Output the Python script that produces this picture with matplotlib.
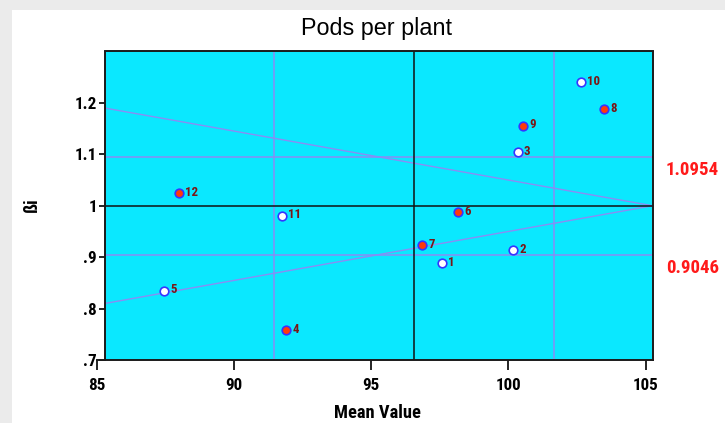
import matplotlib
matplotlib.use("Agg")
import matplotlib.pyplot as plt
from matplotlib import font_manager
from matplotlib.patches import Rectangle

# dados (média x coeficiente de regressão ßi)
genotypes = ["1", "2", "3", "4", "5", "6", "7", "8", "9", "10", "11", "12"]
mean_value = [97.57, 100.17, 100.34, 91.90, 87.45, 98.15, 96.86, 103.50, 100.52, 102.65, 91.75, 88.00]
beta_i = [0.889, 0.914, 1.104, 0.758, 0.835, 0.988, 0.923, 1.188, 1.156, 1.240, 0.981, 1.025]
filled = [False, False, False, True, False, True, True, True, True, False, False, True]

grand_mean = 96.57
x_limits_sd = [91.47, 101.67]
beta_limits = [1.0954, 0.9046]
beta_limit_labels = ["1.0954", "0.9046"]
upper_line_y = [1.19, 1.0]
lower_line_y = [0.81, 1.0]

x_ticks = [85, 90, 95, 100, 105]
y_ticks = [0.7, 0.8, 0.9, 1.0, 1.1, 1.2]
y_tick_labels = [".7", ".8", ".9", "1", "1.1", "1.2"]

x_left, x_right = 85.30, 105.25
y_low, y_high = 0.7, 1.3

W, H = 725, 423

# fonte estreita se existir, senão Liberation Sans com tamanhos menores
installed = {f.name for f in font_manager.fontManager.ttflist}
narrow_name = next((n for n in ["Liberation Sans Narrow", "Arial Narrow", "Roboto Condensed"]
                    if n in installed), None)
if narrow_name:
    narrow = [narrow_name, "Liberation Sans", "DejaVu Sans"]
    k = 1.0
else:
    narrow = ["Liberation Sans", "DejaVu Sans"]
    k = 0.84
regular = ["Liberation Sans", "DejaVu Sans"]
purple = "#8A8CF4"
cyan = "#0AE8FF"

fig = plt.figure(figsize=(W / 100, H / 100), dpi=100)
fig.patch.set_facecolor("#ebebeb")
fig.patches.append(Rectangle((12 / W, 0), 1, (H - 10) / H, transform=fig.transFigure,
                             facecolor="white", edgecolor="none", zorder=-10))

ax = fig.add_axes([96.75 / W, (H - 360) / H, (652.5 - 96.75) / W, 308.5 / H])
ax.set_facecolor("none")
ax.set_xlim(85, x_right)
ax.set_ylim(y_low, y_high)

ax.add_patch(Rectangle((x_left, y_low), x_right - x_left, y_high - y_low,
                       facecolor=cyan, edgecolor="none", zorder=0))

# linhas de referência
for v in x_limits_sd:
    ax.plot([v, v], [y_low, y_high], color=purple, lw=1.1, zorder=1)
for b in beta_limits:
    ax.plot([x_left, x_right], [b, b], color=purple, lw=1.1, zorder=1)
ax.plot([x_left, x_right], upper_line_y, color=purple, lw=1.0, zorder=1)
ax.plot([x_left, x_right], lower_line_y, color=purple, lw=1.0, zorder=1)
ax.plot([grand_mean, grand_mean], [y_low, y_high], color="#111111", lw=1.1, zorder=2)
ax.plot([x_left, x_right], [1.0, 1.0], color="#111111", lw=1.1, zorder=2)

# pontos
for g, xv, yv, f in zip(genotypes, mean_value, beta_i, filled):
    ax.plot(xv, yv, "o", ms=6.2, mfc="#FF3A0A" if f else "white", mec="#3535FF",
            mew=1.2, zorder=3)
    ax.annotate(g, (xv, yv), xytext=(4.5, 0.5), textcoords="offset points",
                ha="left", va="center", fontsize=9.3 * k, color="#7A1515",
                family=narrow, fontweight="bold", zorder=4)

for s in ax.spines.values():
    s.set_linewidth(1.4)
    s.set_color("#1a1a1a")
ax.spines["left"].set_position(("data", x_left))
ax.spines["top"].set_bounds(x_left, x_right)

ax.set_xticks(x_ticks)
ax.set_xticklabels([str(t) for t in x_ticks], family=narrow, fontweight="bold", fontsize=12.3 * k)
ax.set_yticks(y_ticks)
ax.set_yticklabels(y_tick_labels, family=narrow, fontweight="bold", fontsize=12.3 * k)
ax.tick_params(axis="x", direction="out", length=7.2, width=1.2, pad=6)
ax.tick_params(axis="y", direction="out", length=4.3, width=1.2, pad=1.5)

fig.text(376.5 / W, 1 - 29 / H, "Pods per plant", ha="center", va="center",
         fontsize=16.8, family=regular)
fig.text(377 / W, 1 - 413 / H, "Mean Value", ha="center", va="center",
         fontsize=13.3 * k, family=narrow, fontweight="bold")
fig.text(32 / W, 1 - 205 / H, "ßi", ha="center", va="center", rotation=90,
         fontsize=13 * k, family=narrow, fontweight="bold")

for lab, ypx in zip(beta_limit_labels, [169.5, 268]):
    fig.text(666 / W, 1 - ypx / H, lab, ha="left", va="center", fontsize=13.6 * k,
             family=narrow, fontweight="bold", color="#FF1A1A")

fig.savefig("out.png", dpi=100, facecolor=fig.get_facecolor())
